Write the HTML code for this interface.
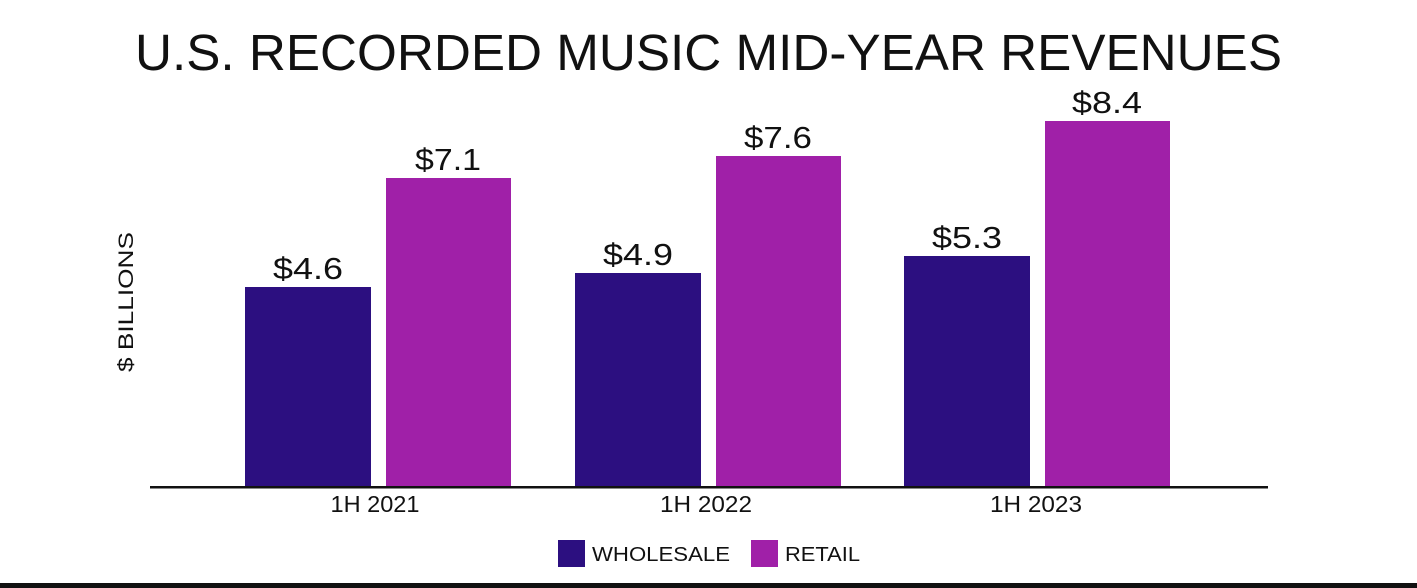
<!DOCTYPE html>
<html><head><meta charset="utf-8"><style>
html,body{margin:0;padding:0;background:#fff;}
svg{display:block;}
text{font-family:"Liberation Sans",sans-serif;fill:#111;}
</style></head><body>
<svg width="1417" height="588" viewBox="0 0 1417 588" xmlns="http://www.w3.org/2000/svg">
<rect width="1417" height="588" fill="#fff"/>
<text x="135" y="70" font-size="51" textLength="1147" lengthAdjust="spacingAndGlyphs">U.S. RECORDED MUSIC MID-YEAR REVENUES</text>
<text transform="translate(133,302) rotate(-90)" font-size="21" text-anchor="middle" textLength="140" lengthAdjust="spacingAndGlyphs">$ BILLIONS</text>
<g fill="#2c0f80">
<rect x="245" y="287" width="126" height="200"/>
<rect x="575" y="273" width="126" height="214"/>
<rect x="904" y="256" width="126" height="231"/>
</g>
<g fill="#a020a8">
<rect x="386" y="178" width="125" height="309"/>
<rect x="716" y="156" width="125" height="331"/>
<rect x="1045" y="121" width="125" height="366"/>
</g>
<rect x="150" y="486" width="1118" height="2.5" fill="#111"/>
<g font-size="31" text-anchor="middle">
<text x="308" y="279" textLength="70" lengthAdjust="spacingAndGlyphs">$4.6</text>
<text x="448" y="170" textLength="66" lengthAdjust="spacingAndGlyphs">$7.1</text>
<text x="638" y="265" textLength="70" lengthAdjust="spacingAndGlyphs">$4.9</text>
<text x="778" y="148" textLength="68" lengthAdjust="spacingAndGlyphs">$7.6</text>
<text x="967" y="248" textLength="70" lengthAdjust="spacingAndGlyphs">$5.3</text>
<text x="1107" y="113" textLength="70" lengthAdjust="spacingAndGlyphs">$8.4</text>
</g>
<g font-size="23" text-anchor="middle">
<text x="375" y="512" textLength="89" lengthAdjust="spacingAndGlyphs">1H 2021</text>
<text x="706" y="512" textLength="92" lengthAdjust="spacingAndGlyphs">1H 2022</text>
<text x="1036" y="512" textLength="92" lengthAdjust="spacingAndGlyphs">1H 2023</text>
</g>
<rect x="558" y="540" width="27" height="27" fill="#2c0f80"/>
<text x="592" y="561" font-size="20" textLength="138" lengthAdjust="spacingAndGlyphs">WHOLESALE</text>
<rect x="751" y="540" width="27" height="27" fill="#a020a8"/>
<text x="785" y="561" font-size="20" textLength="75" lengthAdjust="spacingAndGlyphs">RETAIL</text>
<rect x="0" y="583" width="1417" height="5" fill="#111"/>
</svg>
</body></html>
